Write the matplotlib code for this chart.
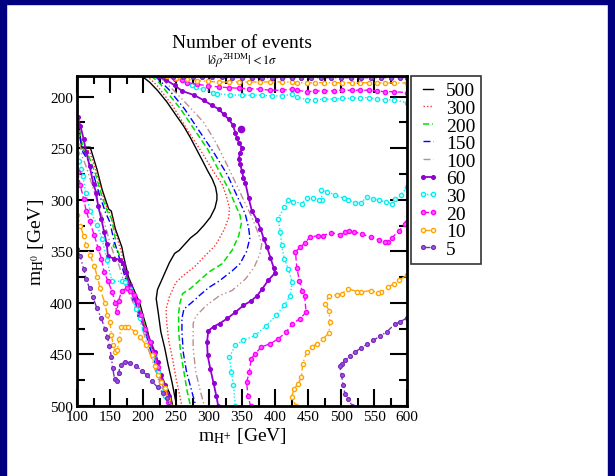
import matplotlib
matplotlib.use("Agg")
import matplotlib.pyplot as plt
from matplotlib.patches import Rectangle
from matplotlib.lines import Line2D

plt.rcParams['font.family'] = ['Liberation Serif', 'DejaVu Serif']
plt.rcParams['mathtext.fontset'] = 'stix'

# ---------------- data (m_H+ , m_H0) ----------------
# 500 events (black)
s500_r_x = [198, 210, 222, 236, 250, 262, 272, 281, 290, 298, 305, 310, 312, 312, 309, 302, 292, 282, 272, 262, 255, 248, 240, 231, 222, 220, 223, 227, 233, 238, 244, 251]
s500_r_y = [180, 186, 194, 205, 218, 229, 240, 251, 262, 272, 280, 288, 295, 300, 308, 317, 325, 332, 337, 344, 349, 352, 361, 374, 387, 396, 409, 428, 444, 460, 477, 500]
s500_l_x = [100, 103, 107, 120, 130, 138, 148, 152, 158, 168, 171, 178, 188, 195, 200, 206, 212, 220, 226, 233, 240, 243, 245]
s500_l_y = [222, 228, 249, 249, 270, 290, 309, 311, 328, 346, 356, 375, 390, 400, 412, 425, 441, 451, 468, 478, 487, 494, 500]

# 300 events (red)
s300_r_x = [206, 221, 245, 269, 292, 310, 320, 326, 331, 330, 323, 310, 293, 278, 262, 250, 240, 235, 236, 239, 245, 250, 255, 259]
s300_r_y = [180, 189, 209, 234, 257, 276, 285, 296, 308, 317, 329, 344, 355, 365, 373, 380, 394, 406, 420, 437, 455, 473, 488, 500]
s300_l_x = [100, 103, 107, 119, 129, 137, 147, 152, 157, 166, 170, 177, 187, 194, 199, 205, 211, 219, 225, 232, 239, 242, 244]
s300_l_y = [223, 231, 250, 253, 272, 291, 311, 314, 329, 348, 358, 376, 391, 401, 413, 426, 441, 452, 469, 479, 488, 495, 500]

# 200 events (green)
s200_r_x = [212, 224, 233, 257, 281, 298, 316, 330, 340, 347, 349, 345, 335, 320, 300, 286, 272, 260, 256, 254, 254, 257, 262, 267, 272]
s200_r_y = [180, 186, 193, 212, 235, 251, 273, 290, 305, 315, 323, 335, 349, 362, 370, 378, 386, 391, 400, 410, 428, 448, 467, 486, 500]
s200_l_x = [100, 104, 110, 118, 128, 136, 145, 152, 156, 158, 155, 162, 168, 175, 186, 193, 199, 205, 211, 218, 224, 231, 238, 242, 244]
s200_l_y = [224, 235, 252, 258, 275, 293, 310, 318, 330, 338, 345, 350, 360, 377, 392, 402, 414, 428, 442, 453, 469, 479, 488, 495, 500]

# 150 events (blue)
s150_r_x = [218, 239, 263, 287, 307, 328, 343, 355, 360, 362, 357, 347, 335, 315, 300, 287, 275, 262, 259, 259, 261, 266, 274, 280]
s150_r_y = [180, 193, 212, 235, 254, 276, 297, 314, 327, 337, 350, 362, 369, 379, 385, 392, 399, 406, 415, 428, 448, 467, 486, 500]
s150_l_x = [100, 104, 109, 117, 126, 134, 143, 150, 155, 162, 167, 174, 185, 192, 198, 204, 210, 217, 223, 230, 237, 241, 243]
s150_l_y = [226, 238, 254, 262, 278, 295, 312, 322, 337, 352, 362, 378, 393, 404, 416, 429, 443, 455, 470, 480, 489, 496, 500]

# 100 events (brown)
s100_r_x = [224, 245, 269, 292, 310, 328, 345, 353, 365, 375, 380, 377, 368, 355, 335, 316, 295, 280, 276, 276, 280, 287, 293]
s100_r_y = [180, 193, 209, 225, 244, 267, 290, 301, 317, 333, 343, 353, 366, 377, 388, 393, 403, 413, 420, 444, 467, 486, 500]
s100_l_x = [100, 103, 108, 114, 122, 130, 138, 145, 150, 157, 164, 171, 182, 189, 196, 202, 208, 215, 221, 228, 235, 239, 241]
s100_l_y = [228, 241, 258, 268, 284, 300, 316, 330, 342, 355, 364, 380, 395, 406, 418, 431, 445, 457, 471, 481, 490, 497, 500]

# 60 events (violet)
s60_r_x = [222, 235, 248, 259, 277, 292, 304, 315, 322, 330, 336, 340, 342, 346, 350, 347, 345, 347, 350, 352, 355, 360, 365, 373, 378, 383, 388, 393, 398, 400, 390, 380, 373, 364, 352, 340, 328, 316, 307, 299, 297, 298, 302, 307, 311, 314]
s60_r_y = [180, 184, 189, 194.5, 198.4, 203.5, 208.3, 212.2, 217, 222, 227.4, 235, 240, 245, 250, 255, 260, 265.5, 272, 278.5, 283.3, 298, 311, 320, 328, 338, 346, 356, 366, 371, 378, 387, 393, 398, 402.5, 409, 415, 420, 423, 427, 438, 451, 464, 478, 490, 500]
s60_l_x = [101, 105, 110, 114, 119, 125, 129, 132, 137, 141, 145, 147, 156, 165, 169, 174, 180, 187, 194, 203, 212, 218, 222, 227, 233, 239, 240]
s60_l_y = [220, 228, 241, 254, 267, 285, 293, 306, 319, 331, 343, 355, 357, 358, 361, 370, 383, 396, 412, 425, 438, 448, 457, 470, 480, 490, 500]
s60_dot_x = [349]
s60_dot_y = [231]

# 30 events (cyan)
s30_t_x = [250, 262, 274, 281, 291, 306, 312, 332, 350, 365, 380, 395, 410, 426, 433, 448, 461, 474, 489, 501, 516, 529, 542, 554, 567, 580, 600]
s30_t_y = [180, 184, 189, 191, 193, 196, 197, 198.4, 198.4, 198.6, 198.6, 199.3, 199.3, 197.7, 200.3, 203, 203, 202.5, 202.2, 201.6, 201.6, 201, 201, 202, 203.2, 203.2, 205.8]
s30_r_x = [600, 591, 582, 577, 568, 558, 549, 539, 531, 521, 511, 504, 491, 479, 470, 471, 466, 458, 448, 441, 428, 420, 414, 405, 408, 410, 414, 420, 426, 423, 414, 402, 387, 370, 352, 340, 331, 334, 337, 340]
s30_r_y = [288, 295, 299.5, 303.7, 302.3, 300.4, 298.8, 297.2, 302.7, 302.7, 300.4, 298.5, 295.3, 292, 290.7, 300.4, 300.4, 298, 298, 303.7, 301.7, 300, 307, 318.5, 331, 344, 357, 367, 380, 393, 402.5, 412, 422, 431.5, 436.4, 441, 452.5, 467, 480, 500]
s30_l_x = [100, 103, 106, 109, 113, 120, 130, 138, 145, 153, 168, 173, 181, 189, 195, 201, 210, 216, 222, 227, 233, 240]
s30_l_y = [255, 262, 270, 277, 293, 311, 324, 338, 358, 379, 379, 380, 387, 406, 415, 425, 438, 451, 467, 480, 490, 500]

# 20 events (magenta)
s20_t_x = [235, 248, 259, 267, 282, 299, 315, 330, 345, 360, 378, 393, 410, 426, 433, 448, 461, 474, 489, 501, 516, 529, 542, 554, 567, 580, 600]
s20_t_y = [180, 183, 184.1, 186.4, 188, 189.6, 190.6, 191.3, 191.9, 192.2, 192.8, 193.8, 193.8, 192.8, 193.8, 195.2, 194.5, 194.5, 194.5, 193.8, 193.8, 193.8, 193.8, 194.5, 195.2, 195.2, 196.1]
s20_r_x = [600, 597, 588, 577, 571, 566, 558, 546, 532, 519, 512, 506, 499, 485, 472, 465, 453, 446, 438, 431, 433, 437, 441, 445, 447, 438, 426, 417, 405, 393, 379, 370, 364, 361, 357, 359, 363]
s20_r_y = [322, 323.6, 330, 337, 341, 340.5, 339, 336.6, 333.3, 330.8, 330, 330.8, 334, 331.8, 335, 335, 336, 341.5, 346.3, 350.2, 365.7, 378.6, 388.3, 393, 409, 415.4, 420.2, 428.3, 434.8, 439.6, 442.8, 449.3, 454, 467, 477, 490, 500]
s20_l_x = [101, 105, 110, 114, 119, 126, 132, 137, 141, 147, 153, 158, 160, 163, 168, 175, 180, 186, 192, 197, 203, 210, 217, 223, 228, 233, 238]
s20_l_y = [273, 286, 299, 311, 321, 334, 347, 357, 370, 379, 389, 400, 409, 398, 388, 386, 388, 392, 398, 412, 425, 438, 450, 462, 476, 486, 496]

# 10 events (orange)
s10_t_x = [236, 250, 267, 282, 299, 315, 330, 345, 360, 378, 393, 410, 426, 433, 448, 461, 474, 489, 501, 516, 529, 542, 554, 567, 580, 600]
s10_t_y = [180, 182, 183, 184.5, 185.3, 185.8, 185.8, 185.8, 185.8, 185.8, 185.8, 185.8, 185.8, 186.4, 186.7, 186.5, 186.5, 186.5, 186.5, 186.5, 186.5, 186.5, 186.5, 186.7, 186.7, 186.8]
s10_r_x = [600, 588, 580, 571, 561, 556, 545, 531, 524, 511, 501, 494, 482, 476, 482, 483, 482, 473, 463, 456, 448, 442, 440, 435, 429, 425, 432]
s10_r_y = [373, 378, 381.5, 384.7, 389.5, 390.2, 388, 389.5, 389, 386.3, 391.2, 392.1, 393.4, 401, 407.4, 418.6, 429, 434.8, 439.6, 442.8, 447.7, 459, 472, 478.4, 483.2, 491.3, 500]
s10_l_x = [100, 105, 110, 114, 120, 126, 131, 135, 142, 146, 150, 152, 155, 158, 161, 164, 167, 172, 178, 188, 195, 205, 213, 218, 223, 228, 233, 238, 241]
s10_l_y = [315, 325, 335, 344, 354, 364, 375, 386, 400, 412, 419, 431, 441, 448, 446, 435, 423, 423, 423.5, 428, 433, 441, 451, 461, 470, 477, 483, 493, 500]

# 5 events (indigo)
s5_t_x = [230, 245, 260, 275, 290, 305, 320, 335, 350, 365, 380, 395, 410, 425, 440, 455, 470, 485, 500, 515, 530, 545, 560, 575, 590, 600]
s5_t_y = [180, 180.5, 181, 181.2, 181.3, 181.4, 181.4, 181.5, 181.5, 181.5, 181.5, 181.5, 181.6, 181.6, 181.6, 181.6, 181.6, 181.6, 181.6, 181.6, 181.6, 181.6, 181.6, 181.6, 181.6, 181.6]
s5_r_x = [600, 589, 582, 569, 559, 549, 539, 531, 521, 513, 506, 501, 498, 501, 503, 506, 511, 517]
s5_r_y = [414.5, 418.6, 420.3, 428.3, 432.2, 436.4, 440.3, 443.5, 447.7, 451.6, 455.8, 459, 461.3, 470.3, 479.3, 488.1, 493, 500]
s5_l_x = [100, 105, 110, 114, 119, 124, 130, 137, 142, 146, 149, 152, 154, 157, 160, 163, 166, 172, 180, 190, 198, 206, 214, 222, 230, 236, 240]
s5_l_y = [348, 355, 367, 377, 386, 394, 405, 415, 425, 433, 442, 452, 463, 474, 476, 468, 460, 457, 458, 461, 466, 470, 476, 482, 487, 492, 500]

levels = ['500', '300', '200', '150', '100', '60', '30', '20', '10', '5']
x_ticks = [100, 150, 200, 250, 300, 350, 400, 450, 500, 550, 600]
y_ticks = [200, 250, 300, 350, 400, 450, 500]

# ---------------- styles ----------------
st = {
    '500': dict(color='black', lw=1.0, ls='-'),
    '300': dict(color='#ff3030', lw=1.0, ls=(0, (1, 1.5))),
    '200': dict(color='#00e000', lw=1.1, ls=(0, (4, 2))),
    '150': dict(color='#0000ff', lw=1.0, ls=(0, (5, 2, 1, 2))),
    '100': dict(color='#bc8f8f', lw=1.0, ls=(0, (5, 2, 1, 2, 1, 2))),
    '60': dict(color='#9400d3', lw=1.3, ls='-', marker='o', ms=2.8, mfc='#9400d3', mew=0.8),
    '30': dict(color='#00f0f0', lw=1.0, ls=(0, (1, 1.5)), marker='o', ms=3.0, mfc='white', mew=1.0),
    '20': dict(color='#ff00ff', lw=1.0, ls=(0, (4, 2)), marker='o', ms=3.0, mfc='#ff60ff', mew=1.0),
    '10': dict(color='#ffa500', lw=1.0, ls=(0, (5, 2, 1, 2)), marker='o', ms=3.0, mfc='white', mew=1.0),
    '5': dict(color='#7a2ac0', lw=1.0, ls=(0, (5, 2, 1, 2, 1, 2)), marker='o', ms=2.8, mfc='#9a5ad8', mew=0.9),
}

series = {
    '500': [(s500_r_x, s500_r_y), (s500_l_x, s500_l_y)],
    '300': [(s300_r_x, s300_r_y), (s300_l_x, s300_l_y)],
    '200': [(s200_r_x, s200_r_y), (s200_l_x, s200_l_y)],
    '150': [(s150_r_x, s150_r_y), (s150_l_x, s150_l_y)],
    '100': [(s100_r_x, s100_r_y), (s100_l_x, s100_l_y)],
    '60': [(s60_r_x, s60_r_y), (s60_l_x, s60_l_y)],
    '30': [(s30_t_x, s30_t_y), (s30_r_x, s30_r_y), (s30_l_x, s30_l_y)],
    '20': [(s20_t_x, s20_t_y), (s20_r_x, s20_r_y), (s20_l_x, s20_l_y)],
    '10': [(s10_t_x, s10_t_y), (s10_r_x, s10_r_y), (s10_l_x, s10_l_y)],
    '5': [(s5_t_x, s5_t_y), (s5_r_x, s5_r_y), (s5_l_x, s5_l_y)],
}

fig = plt.figure(figsize=(6.15, 4.77), dpi=100)
fig.patch.set_facecolor('white')
navy = '#000080'
fig.patches.extend([
    Rectangle((0, 0), 6 / 615, 1, transform=fig.transFigure, color=navy, zorder=0),
    Rectangle((0, 1 - 5 / 477), 1, 5 / 477, transform=fig.transFigure, color=navy, zorder=0),
    Rectangle((608 / 615, 0), 7 / 615, 1, transform=fig.transFigure, color=navy, zorder=0),
])

ax = fig.add_axes([77 / 615, 70 / 477, 330 / 615, 330 / 477])

handles = []
for lev in levels:
    kw = st[lev]
    for (xs, ys) in series[lev]:
        ax.plot(xs, ys, clip_on=True, **kw)
    if lev == '60':
        ax.plot(s60_dot_x, s60_dot_y, 'o', color=kw['color'], ms=4.5)
    handles.append(Line2D([], [], **kw))

ax.set_xlim(100, 600)
ax.set_ylim(500, 180)
ax.set_xticks(x_ticks)
ax.set_yticks(y_ticks)
ax.set_xticks(list(range(125, 600, 50)), minor=True)
ax.set_yticks(list(range(225, 500, 50)), minor=True)
ax.tick_params(which='both', direction='in', top=True, right=True, width=1.5)
ax.tick_params(which='major', length=12, labelsize=11, pad=3)
ax.tick_params(which='minor', length=6)
for sp in ax.spines.values():
    sp.set_linewidth(2)

ax.set_xlabel(r'm$_{\mathrm{H}^{+}}$ [GeV]', fontsize=14, labelpad=1)
ax.set_ylabel(r'm$_{\mathrm{H}^{0}}$ [GeV]', fontsize=14, labelpad=3)

fig.text(242 / 615, 1 - 43 / 477, 'Number of events', ha='center', va='center', fontsize=14)
fig.text(242 / 615, 1 - 61 / 477, r'$|\delta\rho^{\mathrm{2HDM}}| < 1\sigma$', ha='center', va='center', fontsize=9)

leg = ax.legend(handles, levels, loc='upper left', bbox_to_anchor=(1.012, 1.0),
                fontsize=14, frameon=True, fancybox=False, edgecolor='black',
                labelspacing=0.0, handlelength=1.15, handletextpad=0.35,
                borderpad=0.3, borderaxespad=0, numpoints=2)
leg.get_frame().set_linewidth(1.2)

fig.savefig('out.png', dpi=100)
